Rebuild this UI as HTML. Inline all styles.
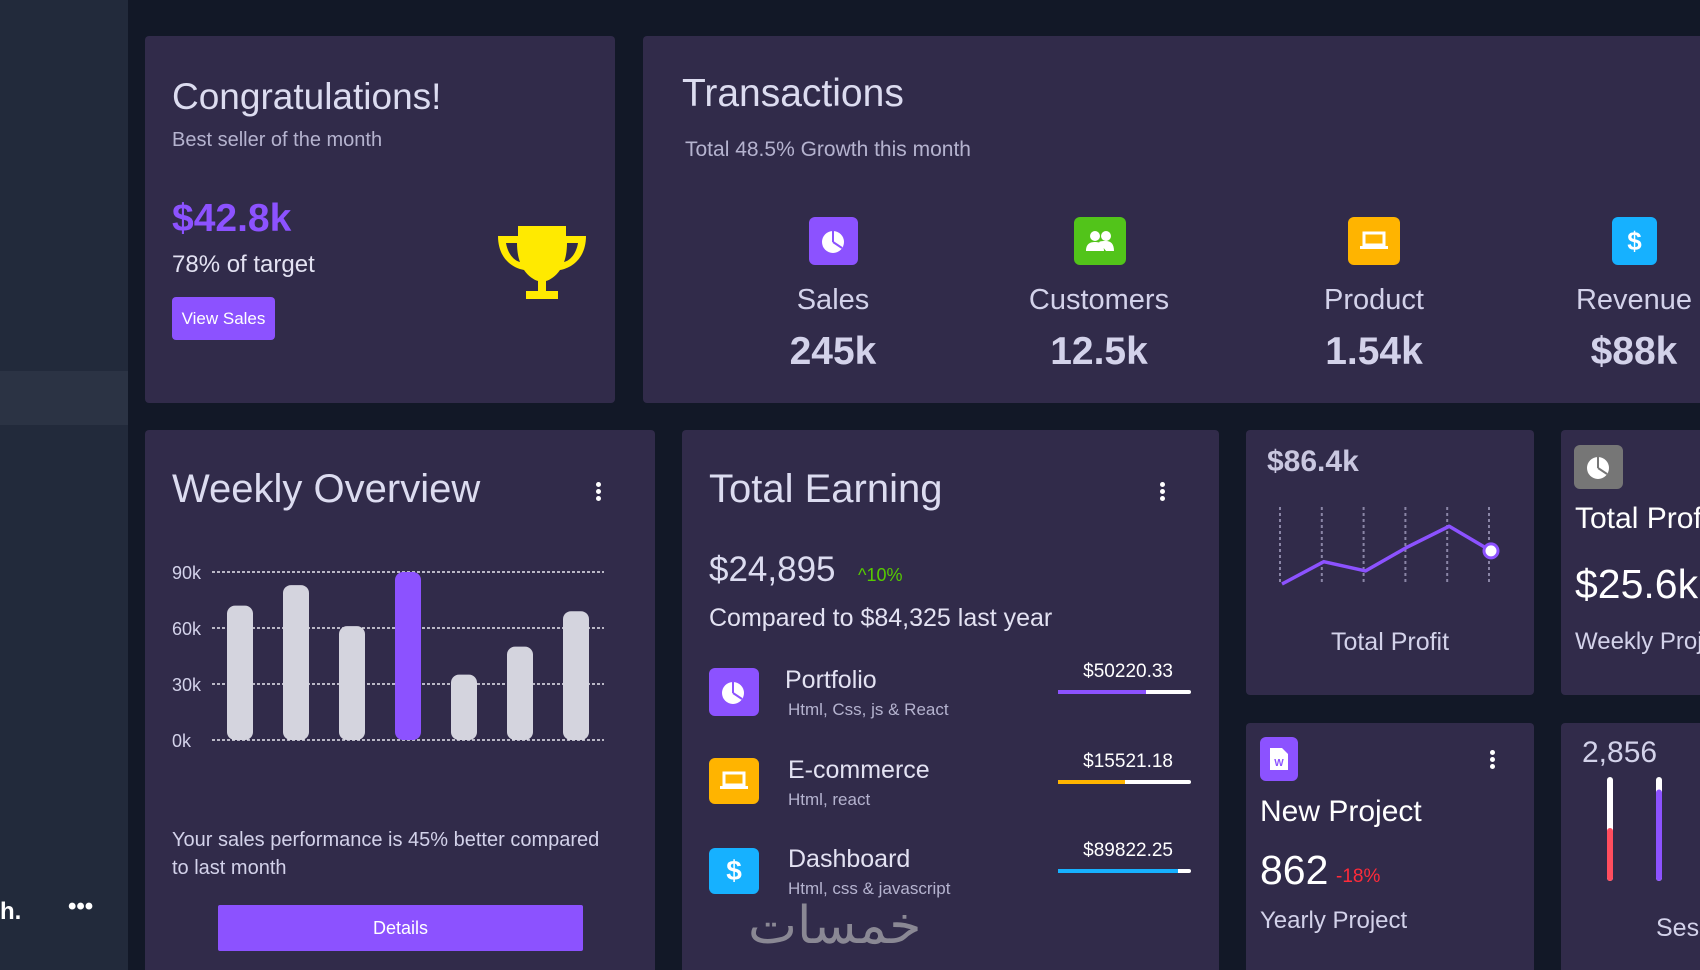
<!DOCTYPE html>
<html style="overflow:hidden;width:1700px;height:970px"><head><meta charset="utf-8"><style>
*{margin:0;padding:0;box-sizing:border-box}
body{width:1700px;height:970px;overflow:hidden;background:#121827;font-family:"Liberation Sans","Noto Sans CJK SC",sans-serif;color:#d3d2ea;position:relative}
.a{position:absolute;white-space:nowrap}
.card{position:absolute;background:#312b4a;border-radius:4px}
.t{position:absolute;white-space:nowrap;line-height:1}
.ic{position:absolute;border-radius:6px;display:flex;align-items:center;justify-content:center;color:#fff;font-weight:bold}
.dots{position:absolute;width:6px}
.dots i{display:block;width:5px;height:5px;border-radius:50%;background:#fff;margin-bottom:2px}
</style></head><body>
<div class="a" style="left:0;top:0;width:128px;height:970px;background:#222a3b"></div>
<div class="a" style="left:0;top:371px;width:128px;height:54px;background:#2b3344"></div>
<div class="t" style="left:0;top:900px;font-size:24px;font-weight:bold;color:#fff">h.</div>
<div class="t" style="left:68px;top:895px;font-size:24px;font-weight:bold;color:#fff">•••</div>

<div class="card" style="left:145px;top:36px;width:470px;height:367px"></div>
<div class="t" style="left:172px;top:78px;font-size:37px;color:#dcdcf0">Congratulations!</div>
<div class="t" style="left:172px;top:130px;font-size:20px;color:#b5b3cf">Best seller of the month</div>
<div class="t" style="left:172px;top:199px;font-size:39px;font-weight:bold;color:#8c52ff">$42.8k</div>
<div class="t" style="left:172px;top:253px;font-size:24px;color:#e3e2f2">78% of target</div>
<div class="a" style="left:172px;top:297px;width:103px;height:43px;background:#8c52ff;border-radius:4px;color:#fff;font-size:17px;line-height:43px;text-align:center">View Sales</div>
<svg class="a" style="left:496px;top:224px" width="92" height="86" viewBox="0 0 92 86"><path d="M22 2h48v10h20c0 22-14 32-26 34-4 6-10 10-14 11v10h12v8H30v-8h12V57c-4-1-10-5-14-11C16 44 2 34 2 12h20z M10 19c2 12 9 18 14 19-2-5-3-12-3-19z M82 19c-2 12-9 18-14 19 2-5 3-12 3-19z" fill="#ffea00" fill-rule="evenodd"/></svg>

<div class="card" style="left:643px;top:36px;width:1070px;height:367px"></div>
<div class="t" style="left:682px;top:74px;font-size:39px;color:#dcdcf0">Transactions</div>
<div class="t" style="left:685px;top:139px;font-size:21px;color:#b5b3cf">Total 48.5% Growth this month</div>

<div class="ic" style="left:809px;top:217px;width:49px;height:48px;background:#8c52ff"><svg width="26" height="26" viewBox="0 0 26 26"><circle cx="12" cy="14" r="11" fill="#fff"/><path d="M12 14V3M12 14l9 6" stroke="#8c52ff" stroke-width="2"/></svg></div>
<div class="t" style="left:733px;top:286px;width:200px;text-align:center;font-size:29px;color:#d3d2ea">Sales</div>
<div class="t" style="left:733px;top:332px;width:200px;text-align:center;font-size:39px;font-weight:bold;color:#d3d2ea">245k</div>
<div class="ic" style="left:1074px;top:217px;width:52px;height:48px;background:#52c41a"><svg width="30" height="22" viewBox="0 0 30 22"><circle cx="10" cy="6" r="5" fill="#fff"/><circle cx="21" cy="6" r="5" fill="#fff"/><path d="M1 21c0-7 4-9 9-9s9 2 9 9zM14 12c2-1 4-1 7-1 5 0 8 3 8 10h-8" fill="#fff"/></svg></div>
<div class="t" style="left:999px;top:286px;width:200px;text-align:center;font-size:29px;color:#d3d2ea">Customers</div>
<div class="t" style="left:999px;top:332px;width:200px;text-align:center;font-size:39px;font-weight:bold;color:#d3d2ea">12.5k</div>
<div class="ic" style="left:1348px;top:217px;width:52px;height:48px;background:#ffb400"><svg width="30" height="20" viewBox="0 0 30 20"><rect x="5" y="2" width="20" height="12" fill="none" stroke="#fff" stroke-width="3"/><rect x="1" y="15" width="28" height="3" fill="#fff"/></svg></div>
<div class="t" style="left:1274px;top:286px;width:200px;text-align:center;font-size:29px;color:#d3d2ea">Product</div>
<div class="t" style="left:1274px;top:332px;width:200px;text-align:center;font-size:39px;font-weight:bold;color:#d3d2ea">1.54k</div>
<div class="ic" style="left:1612px;top:217px;width:45px;height:48px;background:#16b1ff;font-size:26px">$</div>
<div class="t" style="left:1534px;top:286px;width:200px;text-align:center;font-size:29px;color:#d3d2ea">Revenue</div>
<div class="t" style="left:1534px;top:332px;width:200px;text-align:center;font-size:39px;font-weight:bold;color:#d3d2ea">$88k</div>

<div class="card" style="left:145px;top:430px;width:510px;height:540px;border-radius:4px 4px 0 0"></div>
<div class="t" style="left:172px;top:469px;font-size:40px;color:#dcdcf0">Weekly Overview</div>
<div class="dots" style="left:596px;top:482px"><i></i><i></i><i></i></div>
<svg class="a" id="weekly" style="left:160px;top:550px" width="470" height="210"></svg>
<div class="t" style="left:172px;top:826px;font-size:20px;line-height:28px;color:#d3d2ea">Your sales performance is 45% better compared<br>to last month</div>
<div class="a" style="left:218px;top:905px;width:365px;height:46px;background:#8c52ff;border-radius:2px;color:#fff;font-size:18px;line-height:46px;text-align:center">Details</div>

<div class="card" style="left:682px;top:430px;width:537px;height:540px;border-radius:4px 4px 0 0"></div>
<div class="t" style="left:709px;top:469px;font-size:40px;color:#dcdcf0">Total Earning</div>
<div class="dots" style="left:1160px;top:482px"><i></i><i></i><i></i></div>
<div class="t" style="left:709px;top:552px;font-size:35px;color:#dcdcf0">$24,895</div>
<div class="t" style="left:858px;top:566px;font-size:18px;color:#56ca00">^10%</div>
<div class="t" style="left:709px;top:606px;font-size:25px;color:#e3e2f2">Compared to $84,325 last year</div>

<div class="ic" style="left:709px;top:668px;width:50px;height:48px;background:#8c52ff"><svg width="26" height="26" viewBox="0 0 26 26"><circle cx="12" cy="14" r="11" fill="#fff"/><path d="M12 14V3M12 14l9 6" stroke="#8c52ff" stroke-width="2"/></svg></div>
<div class="t" style="left:785px;top:668px;font-size:25px;color:#e3e2f2">Portfolio</div>
<div class="t" style="left:788px;top:701px;font-size:17px;color:#b5b3cf">Html, Css, js &amp; React</div>
<div class="t" style="left:1000px;top:662px;width:173px;text-align:right;font-size:19px;color:#fff">$50220.33</div>
<div class="a" style="left:1058px;top:690px;width:133px;height:4px;background:#fff;border-radius:2px"><div style="width:66%;height:100%;background:#8c52ff"></div></div>

<div class="ic" style="left:709px;top:758px;width:50px;height:46px;background:#ffb400"><svg width="30" height="20" viewBox="0 0 30 20"><rect x="5" y="2" width="20" height="12" fill="none" stroke="#fff" stroke-width="3"/><rect x="1" y="15" width="28" height="3" fill="#fff"/></svg></div>
<div class="t" style="left:788px;top:758px;font-size:25px;color:#e3e2f2">E-commerce</div>
<div class="t" style="left:788px;top:791px;font-size:17px;color:#b5b3cf">Html, react</div>
<div class="t" style="left:1000px;top:752px;width:173px;text-align:right;font-size:19px;color:#fff">$15521.18</div>
<div class="a" style="left:1058px;top:780px;width:133px;height:4px;background:#fff;border-radius:2px"><div style="width:50%;height:100%;background:#ffb400"></div></div>

<div class="ic" style="left:709px;top:848px;width:50px;height:46px;background:#16b1ff;font-size:28px">$</div>
<div class="t" style="left:788px;top:847px;font-size:25px;color:#e3e2f2">Dashboard</div>
<div class="t" style="left:788px;top:880px;font-size:17px;color:#b5b3cf">Html, css &amp; javascript</div>
<div class="t" style="left:1000px;top:841px;width:173px;text-align:right;font-size:19px;color:#fff">$89822.25</div>
<div class="a" style="left:1058px;top:869px;width:133px;height:4px;background:#fff;border-radius:2px"><div style="width:90%;height:100%;background:#16b1ff"></div></div>
<div class="t" style="left:748px;top:900px;font-size:52px;color:#8a8894;font-family:'DejaVu Sans',sans-serif">خمسات</div>

<div class="card" style="left:1246px;top:430px;width:288px;height:265px"></div>
<div class="t" style="left:1267px;top:447px;font-size:30px;font-weight:bold;color:#c9c7e0">$86.4k</div>
<svg class="a" id="profit" style="left:1260px;top:500px" width="260" height="100"></svg>
<div class="t" style="left:1246px;top:630px;width:288px;text-align:center;font-size:25px;color:#d3d2ea">Total Profit</div>

<div class="card" style="left:1561px;top:430px;width:160px;height:265px"></div>
<div class="ic" style="left:1574px;top:445px;width:49px;height:44px;background:#767676"><svg width="28" height="26" viewBox="0 0 26 26"><circle cx="12" cy="14" r="11" fill="#fff"/><path d="M12 14V3M12 14l9 6" stroke="#767676" stroke-width="2"/></svg></div>
<div class="t" style="left:1575px;top:504px;font-size:30px;color:#fff">Total Profit</div>
<div class="t" style="left:1575px;top:564px;font-size:41px;color:#fff">$25.6k</div>
<div class="t" style="left:1575px;top:630px;font-size:24px;color:#d3d2ea">Weekly Project</div>

<div class="card" style="left:1246px;top:723px;width:288px;height:247px;border-radius:4px 4px 0 0"></div>
<div class="ic" style="left:1260px;top:737px;width:38px;height:44px;background:#8c52ff"><svg width="20" height="24" viewBox="0 0 20 24"><path d="M1 1h12l6 6v16H1z" fill="#fff"/><text x="10" y="19" font-size="10" font-weight="bold" text-anchor="middle" fill="#8c52ff" font-family="Liberation Sans">W</text></svg></div>
<div class="dots" style="left:1490px;top:750px"><i></i><i></i><i></i></div>
<div class="t" style="left:1260px;top:797px;font-size:30px;color:#fff">New Project</div>
<div class="t" style="left:1260px;top:850px;font-size:41px;color:#fff">862</div>
<div class="t" style="left:1336px;top:867px;font-size:19px;color:#ff2b3a">-18%</div>
<div class="t" style="left:1260px;top:909px;font-size:24px;color:#d3d2ea">Yearly Project</div>

<div class="card" style="left:1561px;top:723px;width:160px;height:247px;border-radius:4px 4px 0 0"></div>
<div class="t" style="left:1582px;top:738px;font-size:30px;color:#d3d2ea">2,856</div>
<svg class="a" id="sess" style="left:1590px;top:770px" width="110" height="120"></svg>
<div class="t" style="left:1656px;top:916px;font-size:25px;color:#d3d2ea">Sessions</div>

<script>
const NS='http://www.w3.org/2000/svg';
function mk(p,t,a){const e=document.createElementNS(NS,t);for(const k in a)e.setAttribute(k,a[k]);p.appendChild(e);return e;}
// Weekly overview
const weekDays=['Sun','Mon','Tue','Wed','Thu','Fri','Sat'];
const weekValues=[72,83,61,90,35,50,69];
const weekTicks=[0,30,60,90];
const weekTickLabels=['0k','30k','60k','90k'];
const highlightIndex=3;
(function(){
 const s=document.getElementById('weekly');
 const x0=52,x1=444,y0=190,y1=22,max=90;
 const y=v=>y0-(v/max)*(y0-y1);
 const bw=(x1-x0)/weekValues.length;
 const x=i=>x0+bw*(i+0.5);
 weekTicks.forEach((t,i)=>{
  const l=mk(s,'line',{x1:x0,x2:x1,y1:y(t),y2:y(t),stroke:'#e8e8f0','stroke-width':1.5,'stroke-dasharray':'3 2'});
  
  
  const tx=mk(s,'text',{x:12,y:y(t)+7,fill:'#d3d2ea','font-size':18,'font-family':'Liberation Sans'});
  tx.textContent=weekTickLabels[i];
  
  
 });
 weekValues.forEach((v,i)=>{
  const r=mk(s,'rect',{x:x(i)-13,y:y(v),width:26,height:y0-y(v),rx:8,fill:i===highlightIndex?'#8c52ff':'#d4d4de'});
  
  
 });
})();
// Profit line
const profitValues=[0,29,17,48,75,43];
(function(){
 const s=document.getElementById('profit');
 const x0=22,step=41.8,yb=84,yt=7,max=100;
 const x=i=>x0+i*step;const y=v=>yb-(v/max)*(yb-yt);
 profitValues.forEach((v,i)=>{
  const l=mk(s,'line',{x1:x(i)-2,x2:x(i)-2,y1:yt,y2:yb,stroke:'#8a85a6','stroke-width':2,'stroke-dasharray':'3 3'});
  
  
 });
 const p=mk(s,'polyline',{points:profitValues.map((v,i)=>x(i)+','+y(v)).join(' '),fill:'none',stroke:'#8c52ff','stroke-width':3.5,'stroke-linejoin':'round'});
 
 
 const n=profitValues.length-1;
 const c=mk(s,'circle',{cx:x(n),cy:y(profitValues[n]),r:7,fill:'#fff',stroke:'#8c52ff','stroke-width':3});
 
 
})();
// Sessions
const sessionValues=[51,88];
const sessionColors=['#ff4d5e','#8c52ff'];
(function(){
 const s=document.getElementById('sess');
 const top=7,bot=111,xs=[20,69];
 sessionValues.forEach((v,i)=>{
  const bg=mk(s,'rect',{x:xs[i]-3,y:top,width:6,height:bot-top,rx:3,fill:'#fff'});
  
  
  const h=(v/100)*(bot-top);
  const r=mk(s,'rect',{x:xs[i]-3,y:bot-h,width:6,height:h,rx:3,fill:sessionColors[i]});
  
  
 });
})();
</script>
</body></html>
